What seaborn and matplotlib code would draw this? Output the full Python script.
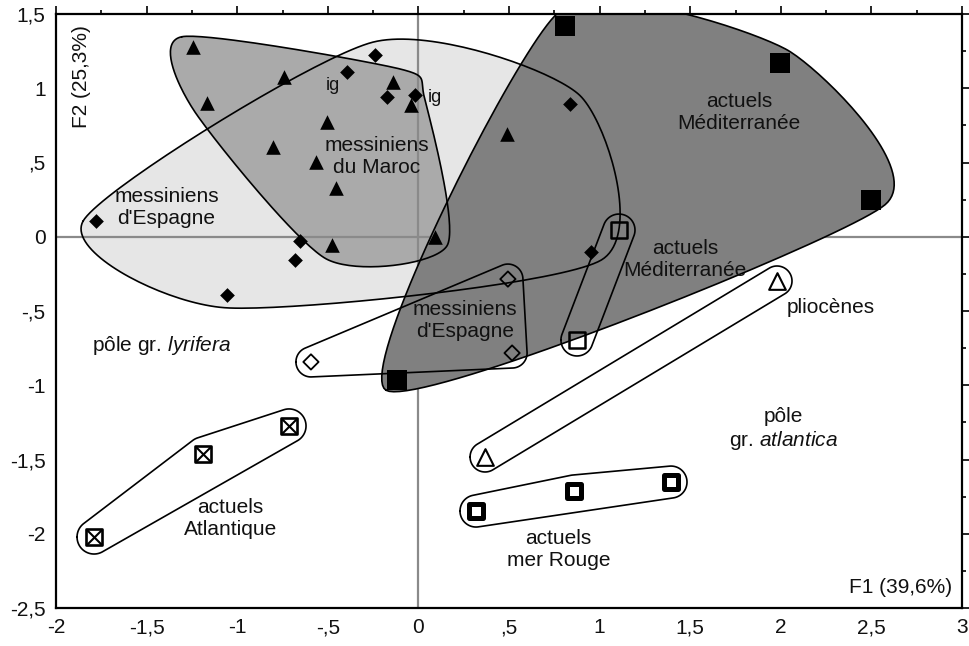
import numpy as np
import matplotlib
matplotlib.use("Agg")
import matplotlib.pyplot as plt
import seaborn as sns

# --- Coordonnées factorielles (F1, F2) par groupe ---
maroc_x = [-1.245, -0.742, -1.167, -0.504, -0.802, -0.565, -0.455, -0.140, -0.041, 0.092, -0.477]
maroc_y = [1.278, 1.075, 0.900, 0.773, 0.605, 0.504, 0.328, 1.042, 0.887, 0.000, -0.056]
maroc_hors_x = [0.489]
maroc_hors_y = [0.692]

espagne_x = [-0.240, -0.394, -0.173, -0.019, -1.779, -0.653, -0.681, -1.056, 0.837, 0.953]
espagne_y = [1.224, 1.109, 0.941, 0.955, 0.106, -0.029, -0.157, -0.392, 0.894, -0.103]

medit_x = [0.809, 1.995, 2.497, -0.118]
medit_y = [1.419, 1.170, 0.247, -0.965]

medit2_x = [1.107, 0.875]
medit2_y = [0.045, -0.695]

espagne2_x = [-0.593, 0.494, 0.517]
espagne2_y = [-0.843, -0.285, -0.783]

plio_x = [1.979, 0.368]
plio_y = [-0.298, -1.483]

atl_x = [-0.714, -1.189, -1.790]
atl_y = [-1.274, -1.463, -2.022]

rouge_x = [0.318, 0.859, 1.394]
rouge_y = [-1.847, -1.712, -1.652]

x_ticks = [-2, -1.5, -1, -0.5, 0, 0.5, 1, 1.5, 2, 2.5, 3]
x_labels = ["-2", "-1,5", "-1", "-,5", "0", ",5", "1", "1,5", "2", "2,5", "3"]
y_ticks = [-2.5, -2, -1.5, -1, -0.5, 0, 0.5, 1, 1.5]
y_labels = ["-2,5", "-2", "-1,5", "-1", "-,5", "0", ",5", "1", "1,5"]

sns.set_theme(style="white")
plt.rcParams["font.family"] = ["Liberation Sans", "DejaVu Sans"]
plt.rcParams["mathtext.fontset"] = "custom"
plt.rcParams["mathtext.rm"] = "Liberation Sans"
plt.rcParams["mathtext.it"] = "Liberation Sans:italic"

W, H = 970, 646
fig = plt.figure(figsize=(W / 100, H / 100), dpi=100)
ax = fig.add_axes([56 / W, 38 / H, 906 / W, 594 / H])
ax.set_xlim(-2, 3)
ax.set_ylim(-2.5, 1.5)


def convex_hull(points):
    pts = sorted(set(map(tuple, points)))

    def cross(o, a, b):
        return (a[0] - o[0]) * (b[1] - o[1]) - (a[1] - o[1]) * (b[0] - o[0])

    lower, upper = [], []
    for p in pts:
        while len(lower) >= 2 and cross(lower[-2], lower[-1], p) <= 0:
            lower.pop()
        lower.append(p)
    for p in reversed(pts):
        while len(upper) >= 2 and cross(upper[-2], upper[-1], p) <= 0:
            upper.pop()
        upper.append(p)
    return np.array(lower[:-1] + upper[:-1])


def capsule(xs, ys, r):
    """Rounded convex envelope (hull of discs of radius r pixels)."""
    pts = ax.transData.transform(np.column_stack([xs, ys]))
    t = np.linspace(0, 2 * np.pi, 120, endpoint=False)
    circ = np.column_stack([np.cos(t), np.sin(t)]) * r
    cloud = (pts[:, None, :] + circ[None, :, :]).reshape(-1, 2)
    hull = convex_hull(cloud)
    hull = np.vstack([hull, hull[:1]])
    return ax.transData.inverted().transform(hull)


def courbe(xs, ys, r, s=0.35, n=40):
    """Smooth closed envelope: cardinal spline through hull vertices pushed out by r pixels."""
    pts = ax.transData.transform(np.column_stack([xs, ys]))
    hull = convex_hull(pts)  # counter-clockwise
    m = len(hull)
    off = []
    for i in range(m):
        a, b, c = hull[i - 1], hull[i], hull[(i + 1) % m]
        e1 = b - a
        e2 = c - b
        n1 = np.array([e1[1], -e1[0]]) / np.hypot(*e1)
        n2 = np.array([e2[1], -e2[0]]) / np.hypot(*e2)
        nv = n1 + n2
        nv /= np.hypot(*nv)
        off.append(b + r * nv)
    off = np.array(off)
    out = []
    t = np.linspace(0, 1, n, endpoint=False)[:, None]
    h00 = 2 * t**3 - 3 * t**2 + 1
    h10 = t**3 - 2 * t**2 + t
    h01 = -2 * t**3 + 3 * t**2
    h11 = t**3 - t**2
    for i in range(m):
        p0, p1, p2, p3 = off[i - 1], off[i], off[(i + 1) % m], off[(i + 2) % m]
        m1 = s * (p2 - p0)
        m2 = s * (p3 - p1)
        out.append(h00 * p1 + h10 * m1 + h01 * p2 + h11 * m2)
    out = np.vstack(out)
    out = np.vstack([out, out[:1]])
    return ax.transData.inverted().transform(out)


env_espagne = courbe(espagne_x, espagne_y, 13)
env_maroc = courbe(maroc_x, maroc_y, 15)
env_medit = courbe(medit_x, medit_y, 15, s=0.3)
env_medit2 = capsule(medit2_x, medit2_y, 16)
env_espagne2 = capsule(espagne2_x, espagne2_y, 15)
env_plio = capsule(plio_x, plio_y, 15)
env_atl = capsule(atl_x, atl_y, 17)
env_rouge = capsule(rouge_x, rouge_y, 16)

# Filled envelopes
ax.fill(env_espagne[:, 0], env_espagne[:, 1], color="#e6e6e6", lw=0, zorder=1)
ax.fill(env_maroc[:, 0], env_maroc[:, 1], color="#aaaaaa", lw=0, zorder=2)
ax.axhline(0, color="#8a8a8a", lw=1.6, zorder=3)
ax.axvline(0, color="#8a8a8a", lw=1.6, zorder=3)
ax.fill(env_medit[:, 0], env_medit[:, 1], color="#808080", lw=0, zorder=4)

# Envelope outlines
for env in [env_espagne, env_maroc, env_medit, env_medit2, env_espagne2,
            env_plio, env_atl, env_rouge]:
    ax.plot(env[:, 0], env[:, 1], color="black", lw=1.2, zorder=5,
            solid_joinstyle="round")

# Markers
sns.scatterplot(x=maroc_x + maroc_hors_x, y=maroc_y + maroc_hors_y, marker="^",
                s=10.5 ** 2, color="black", edgecolor="black", linewidth=0, zorder=6, ax=ax)
sns.scatterplot(x=espagne_x, y=espagne_y, marker="D", s=7.5 ** 2, color="black",
                edgecolor="black", linewidth=0, zorder=6, ax=ax)
sns.scatterplot(x=medit_x, y=medit_y, marker="s", s=14.4 ** 2, color="black",
                edgecolor="black", linewidth=0, zorder=6, ax=ax)
sns.scatterplot(x=medit2_x, y=medit2_y, marker="s", s=11.8 ** 2, facecolor="none",
                edgecolor="black", linewidth=1.8, zorder=6, ax=ax)
sns.scatterplot(x=espagne2_x, y=espagne2_y, marker="D", s=7.8 ** 2, facecolor="none",
                edgecolor="black", linewidth=1.3, zorder=6, ax=ax)
sns.scatterplot(x=plio_x, y=plio_y, marker="^", s=12 ** 2, facecolor="white",
                edgecolor="black", linewidth=1.5, zorder=6, ax=ax)
sns.scatterplot(x=atl_x, y=atl_y, marker="s", s=11.5 ** 2, facecolor="white",
                edgecolor="black", linewidth=1.9, zorder=6, ax=ax)
sns.scatterplot(x=atl_x, y=atl_y, marker="x", s=11.5 ** 2, color="black",
                linewidth=1.5, zorder=7, ax=ax)
sns.scatterplot(x=rouge_x, y=rouge_y, marker="s", s=9.4 ** 2, facecolor="white",
                edgecolor="black", linewidth=3.6, zorder=6, ax=ax)

# Labels
fs = 15
txt = dict(fontsize=fs, ha="center", va="center", zorder=8, color="#111111",
           linespacing=1.2)
ax.text(-0.47, 1.02, "ig", **{**txt, "fontsize": 13})
ax.text(0.09, 0.935, "ig", **{**txt, "fontsize": 13})
ax.text(-0.229, 0.543, "messiniens\ndu Maroc", **txt)
ax.text(-1.39, 0.20, "messiniens\nd'Espagne", **txt)
ax.text(1.769, 0.837, "actuels\nMéditerranée", **txt)
ax.text(1.471, -0.153, "actuels\nMéditerranée", **txt)
ax.text(0.257, -0.567, "messiniens\nd'Espagne", **txt)
ax.text(2.276, -0.474, "pliocènes", **txt)
ax.text(-1.415, -0.729, r"pôle gr. $\mathit{lyrifera}$", **txt)
ax.text(2.013, -1.30, "pôle\ngr. $\\mathit{atlantica}$", **txt)
ax.text(0.772, -2.105, "actuels\nmer Rouge", **txt)
ax.text(-1.039, -1.90, "actuels\nAtlantique", **txt)
ax.text(2.946, -2.36, "F1 (39,6%)", **{**txt, "ha": "right"})
ax.text(-1.862, 1.082, "F2 (25,3%)", rotation=90, **txt)

# Axes, ticks
ax.set_xticks(x_ticks, x_labels)
ax.set_yticks(y_ticks, y_labels)
ax.set_xticks(np.arange(-2, 3.01, 0.25), minor=True)
ax.set_yticks(np.arange(-2.5, 1.51, 0.25), minor=True)
ax.tick_params(which="both", direction="out", top=True, right=True,
               labeltop=False, labelright=False, color="black", width=1.2)
ax.tick_params(which="major", length=5.5, labelsize=fs, pad=2, labelcolor="#111111")
ax.tick_params(which="minor", length=3)
for sp in ax.spines.values():
    sp.set_color("black")
    sp.set_linewidth(1.6)
    sp.set_zorder(9)
ax.set_xlabel("")
ax.set_ylabel("")

fig.savefig("out.png", dpi=100)
